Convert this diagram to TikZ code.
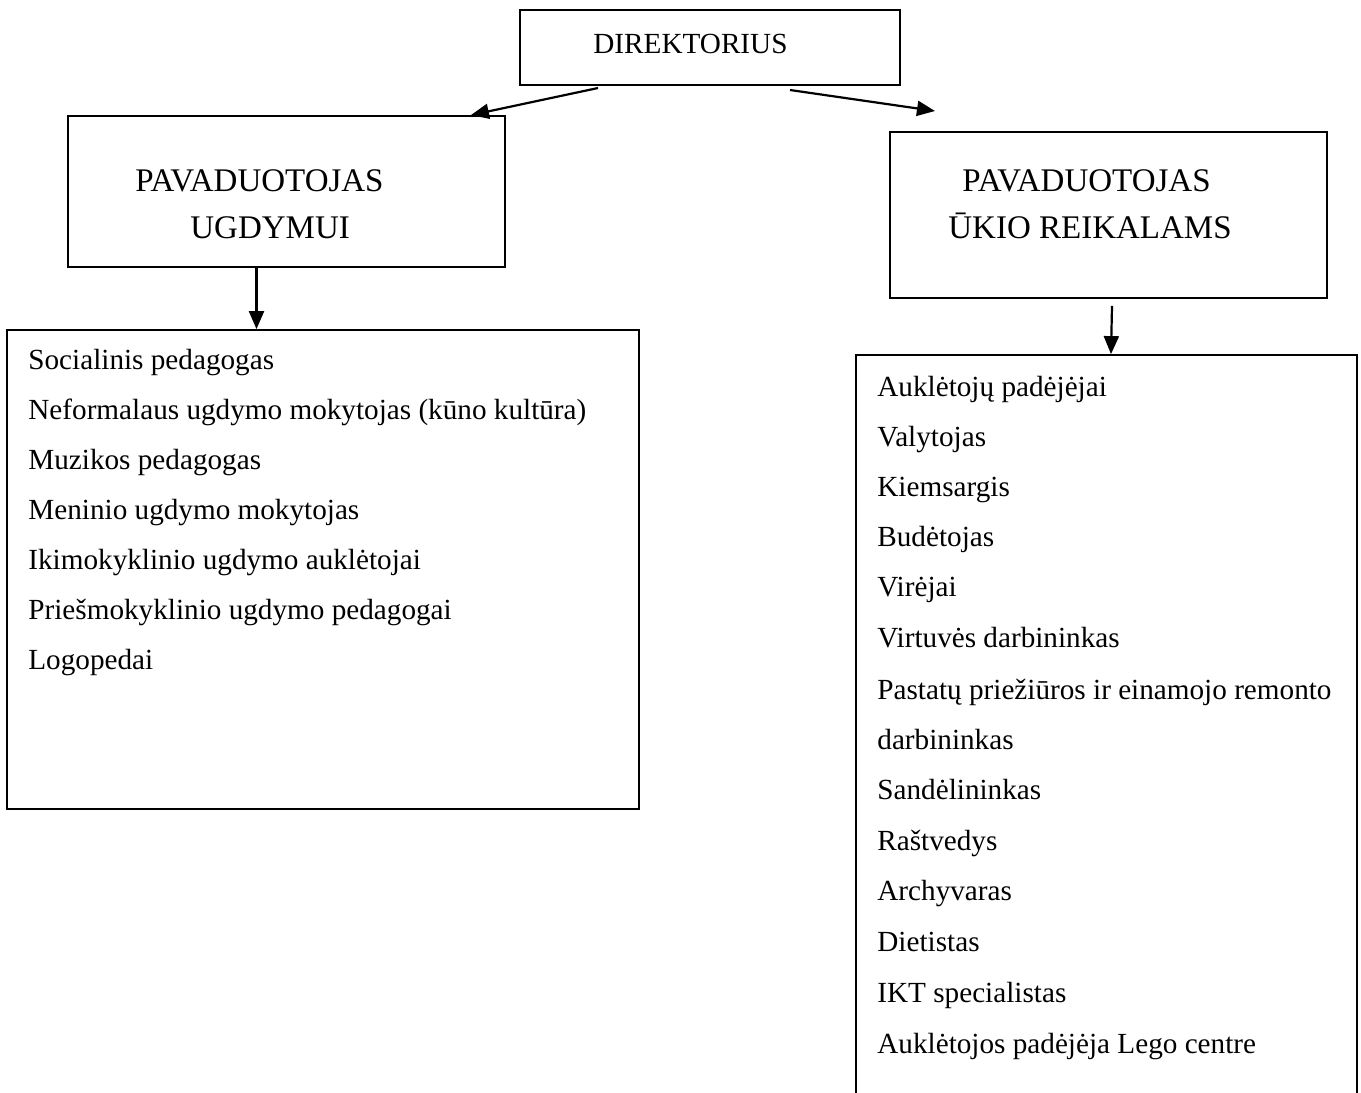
\documentclass[tikz,border=0pt]{standalone}
\usepackage{fontspec}
\setmainfont{Liberation Serif}
\usetikzlibrary{arrows.meta}

\begin{document}
\begin{tikzpicture}[x=0.5pt, y=-0.5pt,
    box/.style={draw, line width=0.9pt, inner sep=0pt},
    txt/.style={font=\fontsize{14.6}{17.5}\selectfont, inner sep=0pt, anchor=base west},
    hdr/.style={txt, font=\fontsize{16.5}{19.5}\selectfont},
    arr/.style={line width=1.1pt, -{Triangle[length=9pt, width=7.5pt]}}]
    \useasboundingbox (0,0) rectangle (1361,1093);
    \clip (0,0) rectangle (1361,1093);

    % Boxes
    \node[box, minimum width=190pt, minimum height=37.5pt] (dir) at (710,47.5) {};
    \node[box, minimum width=218.5pt, minimum height=75.5pt] (ugd) at (286.5,191.5) {};
    \node[box, minimum width=218.5pt, minimum height=83pt] (ukio) at (1108.5,215) {};
    \node[box, minimum width=316pt, minimum height=239.5pt] (ugdlist) at (323,569.5) {};
    \node[box, minimum width=250.5pt, minimum height=382.5pt] (ukiolist) at (1106.5,737.5) {};

    % Titles
    \node[txt] (dirtxt) at (593,53) {DIREKTORIUS};
    \node[hdr] (ugdtxt1) at (135,191) {PAVADUOTOJAS};
    \node[hdr] (ugdtxt2) at (190,238) {UGDYMUI};
    \node[hdr] (ukiotxt1) at (962,191) {PAVADUOTOJAS};
    \node[hdr] (ukiotxt2) at (948,238) {ŪKIO REIKALAMS};

    % Arrows
    \coordinate (d1) at (598,88);
    \coordinate (d2) at (790,90);
    \coordinate (u2) at (935,111);
    \draw[arr] (d1) -- ([xshift=-17.5pt]ugd.north east);
    \draw[arr] (d2) -- (u2);
    \draw[arr] ([xshift=-15pt]ugd.south) -- ([xshift=-15pt]ugd.south |- ugdlist.north);
    \draw[arr] ([xshift=1.75pt, yshift=-3.5pt]ukio.south) -- ([xshift=2.25pt]ukiolist.north);

    % Staff under the deputy for education
    \node[txt] (u1) at (28,369) {Socialinis pedagogas};
    \node[txt] (u2) at (28,419) {Neformalaus ugdymo mokytojas (kūno kultūra)};
    \node[txt] (u3) at (28,469.5) {Muzikos pedagogas};
    \node[txt] (u4) at (28,519.5) {Meninio ugdymo mokytojas};
    \node[txt] (u5) at (28,569.5) {Ikimokyklinio ugdymo auklėtojai};
    \node[txt] (u6) at (28,619.5) {Priešmokyklinio ugdymo pedagogai};
    \node[txt] (u7) at (28,669.5) {Logopedai};

    % Staff under the deputy for maintenance
    \node[txt] (k1) at (877,396) {Auklėtojų padėjėjai};
    \node[txt] (k2) at (877,446) {Valytojas};
    \node[txt] (k3) at (877,496.5) {Kiemsargis};
    \node[txt] (k4) at (877,546.5) {Budėtojas};
    \node[txt] (k5) at (877,596.5) {Virėjai};
    \node[txt] (k6) at (877,647) {Virtuvės darbininkas};
    \node[txt] (k7) at (877,699) {Pastatų priežiūros ir einamojo remonto};
    \node[txt] (k8) at (877,749.5) {darbininkas};
    \node[txt] (k9) at (877,799.5) {Sandėlininkas};
    \node[txt] (k10) at (877,850) {Raštvedys};
    \node[txt] (k11) at (877,900) {Archyvaras};
    \node[txt] (k12) at (877,951) {Dietistas};
    \node[txt] (k13) at (877,1002) {IKT specialistas};
    \node[txt] (k14) at (877,1053) {Auklėtojos padėjėja Lego centre};
\end{tikzpicture}
\end{document}
